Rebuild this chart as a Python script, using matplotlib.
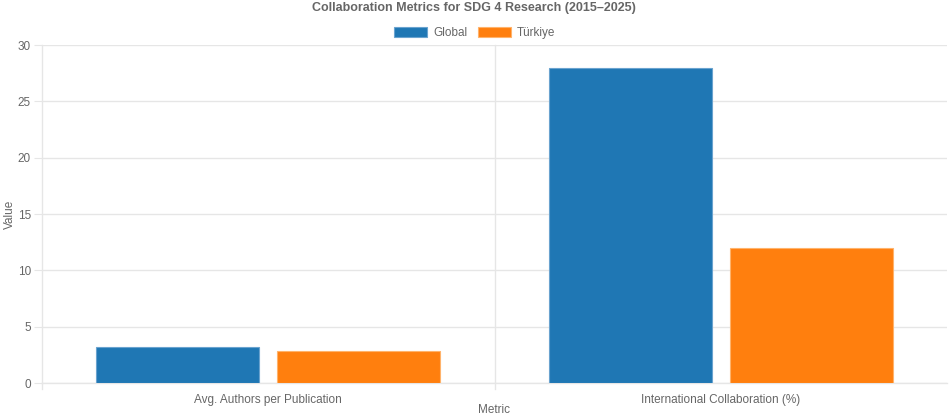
import matplotlib
matplotlib.use("Agg")
import matplotlib.pyplot as plt
import matplotlib.transforms as mtransforms
import numpy as np

# Data
metrics = ["Avg. Authors per Publication", "International Collaboration (%)"]
global_vals = [3.2, 28.0]
turkiye_vals = [2.8, 12.0]
series_names = ["Global", "Türkiye"]
y_ticks = [0, 5, 10, 15, 20, 25, 30]

BLUE = "#1f77b4"
ORANGE = "#ff7f0e"
GRID = "#e6e6e6"
TEXT = "#666666"

plt.rcParams["font.family"] = ["Liberation Sans", "DejaVu Sans"]

W, H = 949, 419
fig = plt.figure(figsize=(W / 100, H / 100), dpi=100)
ax = fig.add_axes([42 / W, (H - 383) / H, (947 - 42) / W, (383 - 45) / H])

x = np.arange(len(metrics))
width = 0.36
offset = 0.2
ax.bar(x - offset, global_vals, width, color=BLUE, edgecolor="#6aa3cf",
       linewidth=0.8, label=series_names[0], zorder=3)
ax.bar(x + offset, turkiye_vals, width, color=ORANGE, edgecolor="#ffb36b",
       linewidth=0.8, label=series_names[1], zorder=3)

ax.set_xlim(-0.5, len(metrics) - 0.5)
ax.set_ylim(0, 30)
ax.set_yticks(y_ticks)
ax.set_xticks(x)
ax.set_xticklabels(metrics)

# Grid lines: horizontal at y ticks, vertical at category boundaries
ax.grid(axis="y", which="major", color=GRID, linewidth=1, zorder=0)
for b in x[:-1] + 0.5:
    ax.axvline(b, ymin=-0.018, ymax=1, color=GRID, linewidth=1, zorder=0, clip_on=False)
ax.axvline(-0.5, ymin=-0.018, ymax=0, color=GRID, linewidth=1, zorder=0, clip_on=False)

for side in ["top", "right"]:
    ax.spines[side].set_visible(False)
for side in ["left", "bottom"]:
    ax.spines[side].set_color(GRID)
    ax.spines[side].set_linewidth(1)

ax.tick_params(axis="y", colors=TEXT, labelsize=8.5, length=6, color=GRID, pad=2)
ax.tick_params(axis="x", which="major", colors=TEXT, labelsize=8.5, length=0, pad=8)

# Axis titles placed in pixel positions of the figure
pix = mtransforms.Affine2D().scale(1 / W, -1 / H).translate(0, 1) + fig.transFigure
fig.text(10, 214, "Value", transform=pix, rotation=90, ha="center", va="center",
         color=TEXT, fontsize=8.5)
fig.text(494, 410, "Metric", transform=pix, ha="center", va="center",
         color=TEXT, fontsize=8.5)

fig.text(474, 8, "Collaboration Metrics for SDG 4 Research (2015\u20132025)", transform=pix,
         ha="center", va="center", fontsize=9, fontweight="bold", color=TEXT)

ax.legend(loc="center", bbox_to_anchor=(0.5, 1 - 33 / H), bbox_transform=fig.transFigure,
          ncol=2, frameon=False, fontsize=8.5, handlelength=2.8, handleheight=0.85,
          handletextpad=0.5, columnspacing=0.9, labelcolor=TEXT)

fig.savefig("out.png", dpi=100, facecolor="white")
